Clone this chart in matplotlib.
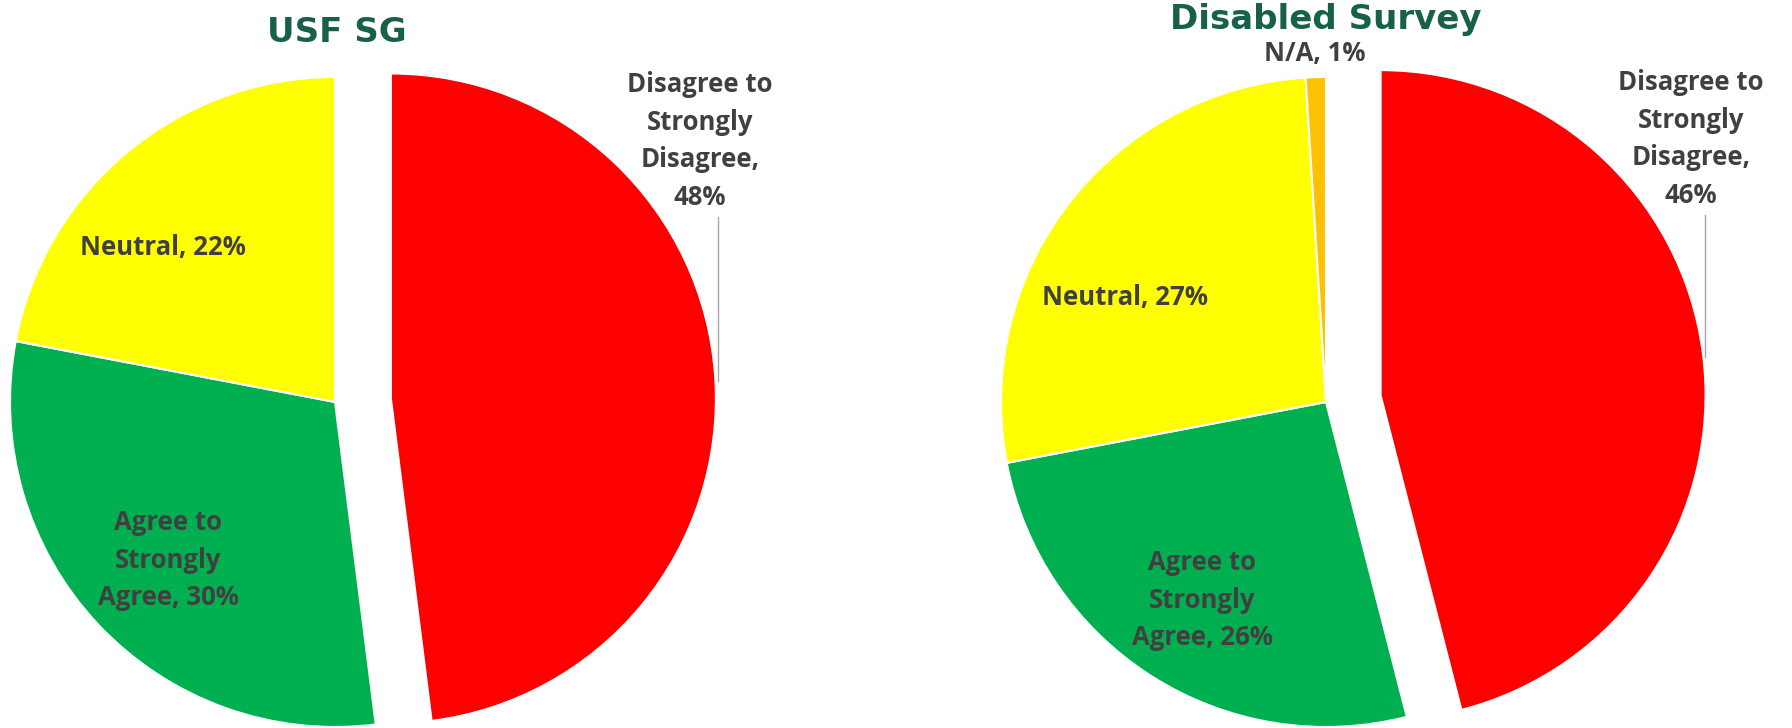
import matplotlib.pyplot as plt

W, H = 1792, 728

# data
left_title = "USF SG"
left_labels = ["Disagree to\nStrongly\nDisagree,", "Agree to\nStrongly\nAgree,", "Neutral,"]
left_values = [48, 30, 22]
left_colors = ["#FF0000", "#00B050", "#FFFF00"]

right_title = "Disabled Survey"
right_labels = ["Disagree to\nStrongly\nDisagree,", "Agree to\nStrongly\nAgree,", "Neutral,", "N/A,"]
right_values = [46, 26, 27, 1]
right_colors = ["#FF0000", "#00B050", "#FFFF00", "#FFC000"]

TITLE_COL = "#17614A"
LABEL_COL = "#404040"
LEADER_COL = "#A6A6A6"
LABEL_FONT = "Open Sans"


def py(y):
    # pixel row (from top) -> data y (from bottom)
    return H - y


def label_text(lab, val, last_line_break):
    if last_line_break:
        return f"{lab}\n{val}%"
    return f"{lab} {val}%"


fig = plt.figure(figsize=(W / 100, H / 100), dpi=100)
ax = fig.add_axes([0, 0, 1, 1])

R = 325
wedge_style = dict(edgecolor="white", linewidth=1.5)

# left pie
ax.pie(left_values, colors=left_colors, startangle=90, counterclock=False,
       radius=R, center=(335, py(402)), explode=[56, 0, 0],
       wedgeprops=wedge_style, frame=True)
# right pie
ax.pie(right_values, colors=right_colors, startangle=90, counterclock=False,
       radius=R, center=(1326, py(402)), explode=[55, 0, 0, 0],
       wedgeprops=wedge_style, frame=True)

ax.set_xlim(0, W)
ax.set_ylim(0, H)
ax.set_aspect("equal")
ax.axis("off")

lab_kw = dict(ha="center", va="center", fontsize=18.5, fontweight="bold",
              color=LABEL_COL, family=LABEL_FONT, linespacing=1.5)

# titles
ax.text(337, py(33), left_title, ha="center", va="center", fontsize=24.5,
        fontweight="bold", color=TITLE_COL, family="DejaVu Sans")
ax.text(1326, py(20), right_title, ha="center", va="center", fontsize=24.5,
        fontweight="bold", color=TITLE_COL, family="DejaVu Sans")

# left labels
ax.text(700, py(141), label_text(left_labels[0], left_values[0], True), **lab_kw)
ax.plot([718, 718], [py(217), py(381)], color=LEADER_COL, lw=1)
ax.text(168, py(560), label_text(left_labels[1], left_values[1], False), **lab_kw)
ax.text(163, py(247), label_text(left_labels[2], left_values[2], False), **lab_kw)

# right labels
ax.text(1691, py(139), label_text(right_labels[0], right_values[0], True), **lab_kw)
ax.plot([1705, 1705], [py(215), py(357)], color=LEADER_COL, lw=1)
ax.text(1202, py(600), label_text(right_labels[1], right_values[1], False), **lab_kw)
ax.text(1125, py(297), label_text(right_labels[2], right_values[2], False), **lab_kw)
ax.text(1315, py(54), label_text(right_labels[3], right_values[3], False), **lab_kw)

fig.savefig("out.png", dpi=100)
